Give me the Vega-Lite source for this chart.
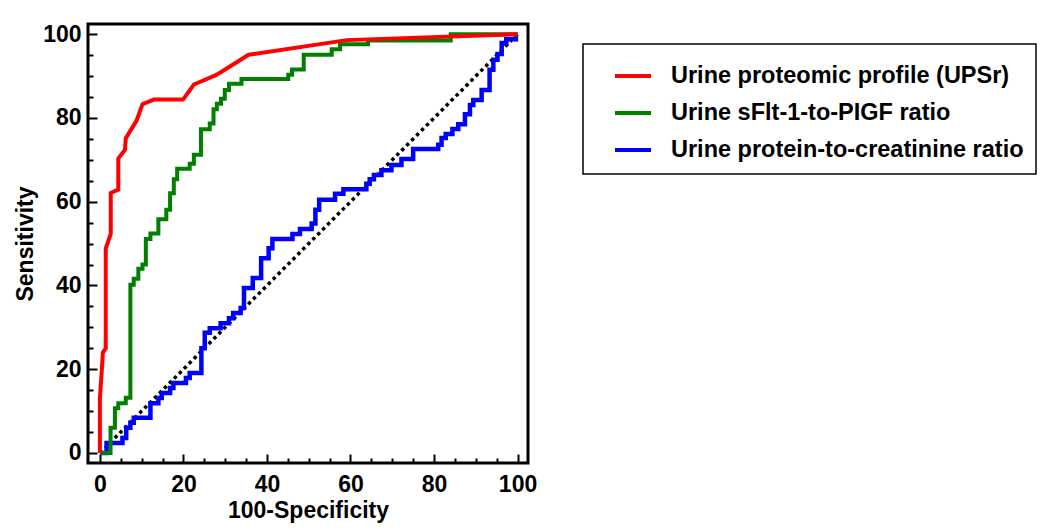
{
  "$schema": "https://vega.github.io/schema/vega-lite/v6.json",
  "width": 440,
  "height": 439,
  "autosize": {"type": "none"},
  "padding": {"left": 88, "top": 24, "right": 522, "bottom": 68},
  "background": "white",
  "config": {
    "view": {"stroke": "black", "strokeWidth": 3},
    "font": "Liberation Sans",
    "axis": {
      "grid": false, "domain": false,
      "labelFont": "Liberation Sans", "labelFontWeight": "bold", "labelFontSize": 23, "labelColor": "black",
      "titleFont": "Liberation Sans", "titleFontWeight": "bold", "titleFontSize": 23, "titleColor": "black",
      "tickColor": "black", "tickWidth": 2
    },
    "legend": {
      "orient": "none", "legendX": 495, "legendY": 20,
      "titleOrient": "left", "titleFontSize": 1, "titlePadding": 18,
      "strokeColor": "black", "strokeWidth": 1.5, "fillColor": "white", "padding": 12,
      "symbolType": "stroke", "symbolSize": 1296, "symbolStrokeWidth": 4,
      "labelFont": "Liberation Sans", "labelFontWeight": "bold", "labelFontSize": 23.5, "labelColor": "black",
      "labelLimit": 0, "labelOffset": 18, "rowPadding": 5
    }
  },
  "datasets": {
    "roc": [
      {"series": "Urine proteomic profile (UPSr)", "x": 0, "y": 0},
      {"series": "Urine proteomic profile (UPSr)", "x": 0, "y": 13},
      {"series": "Urine proteomic profile (UPSr)", "x": 0.6, "y": 22},
      {"series": "Urine proteomic profile (UPSr)", "x": 0.7, "y": 24},
      {"series": "Urine proteomic profile (UPSr)", "x": 1.4, "y": 25},
      {"series": "Urine proteomic profile (UPSr)", "x": 1.4, "y": 48.8},
      {"series": "Urine proteomic profile (UPSr)", "x": 2.6, "y": 52.4},
      {"series": "Urine proteomic profile (UPSr)", "x": 2.6, "y": 62.1},
      {"series": "Urine proteomic profile (UPSr)", "x": 4.4, "y": 62.9},
      {"series": "Urine proteomic profile (UPSr)", "x": 4.4, "y": 70.3},
      {"series": "Urine proteomic profile (UPSr)", "x": 6.0, "y": 72.4},
      {"series": "Urine proteomic profile (UPSr)", "x": 6.2, "y": 75.2},
      {"series": "Urine proteomic profile (UPSr)", "x": 8.8, "y": 79.4},
      {"series": "Urine proteomic profile (UPSr)", "x": 10.2, "y": 83.3},
      {"series": "Urine proteomic profile (UPSr)", "x": 12.9, "y": 84.4},
      {"series": "Urine proteomic profile (UPSr)", "x": 19.9, "y": 84.4},
      {"series": "Urine proteomic profile (UPSr)", "x": 22.5, "y": 88.0},
      {"series": "Urine proteomic profile (UPSr)", "x": 27.9, "y": 90.3},
      {"series": "Urine proteomic profile (UPSr)", "x": 35.6, "y": 95.1},
      {"series": "Urine proteomic profile (UPSr)", "x": 59.1, "y": 98.6},
      {"series": "Urine proteomic profile (UPSr)", "x": 100, "y": 100},

      {"series": "Urine sFlt-1-to-PIGF ratio", "x": 0, "y": 0},
      {"series": "Urine sFlt-1-to-PIGF ratio", "x": 2.55, "y": 6.0},
      {"series": "Urine sFlt-1-to-PIGF ratio", "x": 3.6, "y": 10.7},
      {"series": "Urine sFlt-1-to-PIGF ratio", "x": 4.4, "y": 11.9},
      {"series": "Urine sFlt-1-to-PIGF ratio", "x": 6.2, "y": 13.2},
      {"series": "Urine sFlt-1-to-PIGF ratio", "x": 7.3, "y": 40.2},
      {"series": "Urine sFlt-1-to-PIGF ratio", "x": 8.1, "y": 41.6},
      {"series": "Urine sFlt-1-to-PIGF ratio", "x": 9.2, "y": 44.0},
      {"series": "Urine sFlt-1-to-PIGF ratio", "x": 10.2, "y": 45.0},
      {"series": "Urine sFlt-1-to-PIGF ratio", "x": 11.0, "y": 51.1},
      {"series": "Urine sFlt-1-to-PIGF ratio", "x": 12.1, "y": 52.4},
      {"series": "Urine sFlt-1-to-PIGF ratio", "x": 14.0, "y": 55.8},
      {"series": "Urine sFlt-1-to-PIGF ratio", "x": 15.9, "y": 58.1},
      {"series": "Urine sFlt-1-to-PIGF ratio", "x": 16.8, "y": 62.0},
      {"series": "Urine sFlt-1-to-PIGF ratio", "x": 17.7, "y": 65.4},
      {"series": "Urine sFlt-1-to-PIGF ratio", "x": 18.5, "y": 67.9},
      {"series": "Urine sFlt-1-to-PIGF ratio", "x": 21.5, "y": 69.1},
      {"series": "Urine sFlt-1-to-PIGF ratio", "x": 22.5, "y": 71.2},
      {"series": "Urine sFlt-1-to-PIGF ratio", "x": 24.2, "y": 77.3},
      {"series": "Urine sFlt-1-to-PIGF ratio", "x": 26.3, "y": 78.7},
      {"series": "Urine sFlt-1-to-PIGF ratio", "x": 27.2, "y": 82.1},
      {"series": "Urine sFlt-1-to-PIGF ratio", "x": 28.0, "y": 83.4},
      {"series": "Urine sFlt-1-to-PIGF ratio", "x": 29.0, "y": 84.6},
      {"series": "Urine sFlt-1-to-PIGF ratio", "x": 29.9, "y": 86.7},
      {"series": "Urine sFlt-1-to-PIGF ratio", "x": 30.9, "y": 88.2},
      {"series": "Urine sFlt-1-to-PIGF ratio", "x": 33.9, "y": 89.3},
      {"series": "Urine sFlt-1-to-PIGF ratio", "x": 45.1, "y": 90.3},
      {"series": "Urine sFlt-1-to-PIGF ratio", "x": 46.0, "y": 91.6},
      {"series": "Urine sFlt-1-to-PIGF ratio", "x": 48.8, "y": 95.1},
      {"series": "Urine sFlt-1-to-PIGF ratio", "x": 55.5, "y": 96.4},
      {"series": "Urine sFlt-1-to-PIGF ratio", "x": 57.5, "y": 97.6},
      {"series": "Urine sFlt-1-to-PIGF ratio", "x": 64.2, "y": 98.5},
      {"series": "Urine sFlt-1-to-PIGF ratio", "x": 84.0, "y": 100},
      {"series": "Urine sFlt-1-to-PIGF ratio", "x": 100, "y": 100},

      {"series": "Urine protein-to-creatinine ratio", "x": 0, "y": 0},
      {"series": "Urine protein-to-creatinine ratio", "x": 1.6, "y": 2.4},
      {"series": "Urine protein-to-creatinine ratio", "x": 5.4, "y": 3.6},
      {"series": "Urine protein-to-creatinine ratio", "x": 6.3, "y": 6.0},
      {"series": "Urine protein-to-creatinine ratio", "x": 7.3, "y": 7.2},
      {"series": "Urine protein-to-creatinine ratio", "x": 8.1, "y": 8.4},
      {"series": "Urine protein-to-creatinine ratio", "x": 12.1, "y": 11.9},
      {"series": "Urine protein-to-creatinine ratio", "x": 14.0, "y": 13.1},
      {"series": "Urine protein-to-creatinine ratio", "x": 14.8, "y": 14.3},
      {"series": "Urine protein-to-creatinine ratio", "x": 16.8, "y": 15.5},
      {"series": "Urine protein-to-creatinine ratio", "x": 17.6, "y": 16.7},
      {"series": "Urine protein-to-creatinine ratio", "x": 20.6, "y": 17.9},
      {"series": "Urine protein-to-creatinine ratio", "x": 21.5, "y": 19.1},
      {"series": "Urine protein-to-creatinine ratio", "x": 24.3, "y": 25.0},
      {"series": "Urine protein-to-creatinine ratio", "x": 25.1, "y": 28.7},
      {"series": "Urine protein-to-creatinine ratio", "x": 26.3, "y": 29.8},
      {"series": "Urine protein-to-creatinine ratio", "x": 28.9, "y": 31.0},
      {"series": "Urine protein-to-creatinine ratio", "x": 30.9, "y": 32.2},
      {"series": "Urine protein-to-creatinine ratio", "x": 31.9, "y": 33.4},
      {"series": "Urine protein-to-creatinine ratio", "x": 33.7, "y": 34.6},
      {"series": "Urine protein-to-creatinine ratio", "x": 34.5, "y": 39.4},
      {"series": "Urine protein-to-creatinine ratio", "x": 36.6, "y": 41.8},
      {"series": "Urine protein-to-creatinine ratio", "x": 38.6, "y": 46.5},
      {"series": "Urine protein-to-creatinine ratio", "x": 40.4, "y": 48.9},
      {"series": "Urine protein-to-creatinine ratio", "x": 41.3, "y": 51.1},
      {"series": "Urine protein-to-creatinine ratio", "x": 46.1, "y": 52.3},
      {"series": "Urine protein-to-creatinine ratio", "x": 47.9, "y": 53.5},
      {"series": "Urine protein-to-creatinine ratio", "x": 50.7, "y": 54.8},
      {"series": "Urine protein-to-creatinine ratio", "x": 51.6, "y": 58.1},
      {"series": "Urine protein-to-creatinine ratio", "x": 52.5, "y": 60.5},
      {"series": "Urine protein-to-creatinine ratio", "x": 56.3, "y": 61.9},
      {"series": "Urine protein-to-creatinine ratio", "x": 58.3, "y": 63.0},
      {"series": "Urine protein-to-creatinine ratio", "x": 63.8, "y": 64.3},
      {"series": "Urine protein-to-creatinine ratio", "x": 64.6, "y": 65.4},
      {"series": "Urine protein-to-creatinine ratio", "x": 65.6, "y": 66.4},
      {"series": "Urine protein-to-creatinine ratio", "x": 67.4, "y": 67.5},
      {"series": "Urine protein-to-creatinine ratio", "x": 69.8, "y": 68.8},
      {"series": "Urine protein-to-creatinine ratio", "x": 72.2, "y": 70.2},
      {"series": "Urine protein-to-creatinine ratio", "x": 75.0, "y": 72.6},
      {"series": "Urine protein-to-creatinine ratio", "x": 81.0, "y": 73.6},
      {"series": "Urine protein-to-creatinine ratio", "x": 81.8, "y": 75.2},
      {"series": "Urine protein-to-creatinine ratio", "x": 82.8, "y": 76.2},
      {"series": "Urine protein-to-creatinine ratio", "x": 84.4, "y": 77.4},
      {"series": "Urine protein-to-creatinine ratio", "x": 85.8, "y": 78.5},
      {"series": "Urine protein-to-creatinine ratio", "x": 87.4, "y": 80.9},
      {"series": "Urine protein-to-creatinine ratio", "x": 88.6, "y": 83.1},
      {"series": "Urine protein-to-creatinine ratio", "x": 89.4, "y": 84.3},
      {"series": "Urine protein-to-creatinine ratio", "x": 91.4, "y": 86.7},
      {"series": "Urine protein-to-creatinine ratio", "x": 93.3, "y": 91.5},
      {"series": "Urine protein-to-creatinine ratio", "x": 94.2, "y": 93.9},
      {"series": "Urine protein-to-creatinine ratio", "x": 95.2, "y": 95.3},
      {"series": "Urine protein-to-creatinine ratio", "x": 96.2, "y": 97.9},
      {"series": "Urine protein-to-creatinine ratio", "x": 97.3, "y": 98.8},
      {"series": "Urine protein-to-creatinine ratio", "x": 99.6, "y": 99.7},
      {"series": "Urine protein-to-creatinine ratio", "x": 100, "y": 99.7}
    ],
    "diag": [{"x": 0, "y": 0}, {"x": 100, "y": 100}]
  },
  "layer": [
    {
      "data": {"name": "diag"},
      "mark": {"type": "line", "color": "black", "strokeWidth": 3.5, "strokeDash": [3.5, 3.5]},
      "encoding": {
        "x": {"field": "x", "type": "quantitative", "scale": {"domain": [-2.85, 102.5], "nice": false, "zero": false},
              "axis": {"orient": "bottom", "values": [5, 10, 15, 25, 30, 35, 45, 50, 55, 65, 70, 75, 85, 90, 95], "tickSize": -5, "labels": false, "title": null}},
        "y": {"field": "y", "type": "quantitative", "scale": {"domain": [-2.4, 102.45], "nice": false, "zero": false},
              "axis": {"orient": "left", "values": [5, 10, 15, 25, 30, 35, 45, 50, 55, 65, 70, 75, 85, 90, 95], "tickSize": -5, "labels": false, "title": null}}
      }
    },
    {
      "data": {"name": "roc"},
      "transform": [{"filter": "datum.series === 'Urine protein-to-creatinine ratio'"}],
      "mark": {"type": "line", "strokeWidth": 4.5, "interpolate": "step-after"},
      "encoding": {
        "x": {"field": "x", "type": "quantitative", "scale": {"domain": [-2.85, 102.5], "nice": false, "zero": false},
              "axis": {"orient": "bottom", "values": [0, 20, 40, 60, 80, 100], "tickSize": -9, "labels": false, "title": null}},
        "y": {"field": "y", "type": "quantitative", "scale": {"domain": [-2.4, 102.45], "nice": false, "zero": false},
              "axis": {"orient": "left", "values": [0, 20, 40, 60, 80, 100], "tickSize": -9, "labels": false, "title": null}},
        "color": {"field": "series", "type": "nominal",
                  "scale": {"domain": ["Urine proteomic profile (UPSr)", "Urine sFlt-1-to-PIGF ratio", "Urine protein-to-creatinine ratio"], "range": ["#ff0000", "#008000", "#0000ff"]},
                  "legend": {"title": " "}},
        "order": {"value": null}
      }
    },
    {
      "data": {"name": "roc"},
      "transform": [{"filter": "datum.series === 'Urine sFlt-1-to-PIGF ratio'"}],
      "mark": {"type": "line", "strokeWidth": 4, "interpolate": "step-after"},
      "encoding": {
        "x": {"field": "x", "type": "quantitative", "scale": {"domain": [-2.85, 102.5], "nice": false, "zero": false},
              "axis": {"orient": "bottom", "values": [0, 20, 40, 60, 80, 100], "ticks": false, "labelPadding": 10, "title": "100-Specificity", "titlePadding": 3}},
        "y": {"field": "y", "type": "quantitative", "scale": {"domain": [-2.4, 102.45], "nice": false, "zero": false},
              "axis": {"orient": "left", "values": [0, 20, 40, 60, 80, 100], "ticks": false, "labelPadding": 7, "title": "Sensitivity", "titlePadding": 5}},
        "color": {"field": "series", "type": "nominal",
                  "scale": {"domain": ["Urine proteomic profile (UPSr)", "Urine sFlt-1-to-PIGF ratio", "Urine protein-to-creatinine ratio"], "range": ["#ff0000", "#008000", "#0000ff"]},
                  "legend": {"title": " "}},
        "order": {"value": null}
      }
    },
    {
      "data": {"name": "roc"},
      "transform": [{"filter": "datum.series === 'Urine proteomic profile (UPSr)'"}],
      "mark": {"type": "line", "strokeWidth": 4},
      "encoding": {
        "x": {"field": "x", "type": "quantitative", "scale": {"domain": [-2.85, 102.5], "nice": false, "zero": false}, "axis": null},
        "y": {"field": "y", "type": "quantitative", "scale": {"domain": [-2.4, 102.45], "nice": false, "zero": false}, "axis": null},
        "color": {"field": "series", "type": "nominal",
                  "scale": {"domain": ["Urine proteomic profile (UPSr)", "Urine sFlt-1-to-PIGF ratio", "Urine protein-to-creatinine ratio"], "range": ["#ff0000", "#008000", "#0000ff"]},
                  "legend": {"title": " "}},
        "order": {"value": null}
      }
    }
  ],
  "resolve": {"axis": {"x": "independent", "y": "independent"}}
}
